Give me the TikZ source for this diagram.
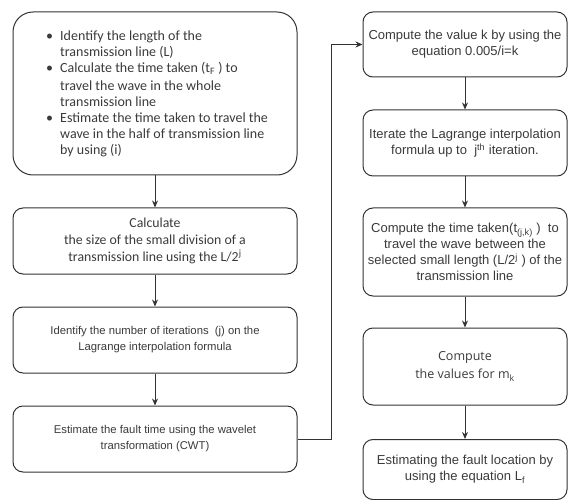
\documentclass[tikz,border=0pt]{standalone}
\usepackage{fontspec}
\setmainfont{Liberation Sans}
\newfontfamily\calfont{Carlito}
\newfontfamily\segfont{Open Sans}
\usetikzlibrary{arrows.meta}
\definecolor{ln}{HTML}{333333}
\definecolor{tx}{HTML}{3A3A3A}
\tikzset{
  box/.style={draw=ln, line width=1pt, rounded corners=10pt, inner sep=0pt, align=center, text=tx, font=\fontsize{11.3}{16}\selectfont},
  rbox/.style={box, font=\fontsize{13}{16}\selectfont},
  bigbox/.style={box, rounded corners=20pt},
  calbox/.style={box, font=\calfont\fontsize{13.8}{17}\selectfont},
  segbox/.style={box, font=\segfont\fontsize{12.5}{18}\selectfont},
  conn/.style={draw=ln, line width=1pt, -{Stealth[length=7pt,width=6pt]}},
}
\begin{document}
\begin{tikzpicture}[x=1pt,y=-1pt]
\useasboundingbox (0,0) rectangle (568,500);
% left column
\node[bigbox, minimum width=284, minimum height=163] (b1) at (155,93.5) {};
\node[anchor=west, align=left, inner sep=0pt, text=tx, font=\calfont\fontsize{14}{16}\selectfont] (t1) at (46,94)
 {\makebox[14pt][l]{\textbullet}Identify the length of the\\
  \hspace*{14pt}transmission line (L)\\
  \makebox[14pt][l]{\textbullet}Calculate the time taken (t\textsubscript{F} ) to\\[2pt]
  \hspace*{14pt}travel the wave in the whole\\
  \hspace*{14pt}transmission line\\
  \makebox[14pt][l]{\textbullet}Estimate the time taken to travel the\\
  \hspace*{14pt}wave in the half of transmission line\\
  \hspace*{14pt}by using (i)};
\node[calbox, minimum width=284, minimum height=66] (b2) at (155,241)
 {Calculate\\the size of the small division of a\\transmission line using the L/2\textsuperscript{j}};
\node[box, minimum width=284, minimum height=66] (b3) at (155,340)
 {Identify the number of iterations\ \ (j) on the\\Lagrange interpolation formula};
\node[box, minimum width=284, minimum height=66] (b4) at (155,439)
 {Estimate the fault time using the wavelet\\transformation (CWT)};
% right column
\node[rbox, minimum width=204, minimum height=65] (r1) at (465,44.5)
 {Compute the value k by using the\\equation 0.005/i=k};
\node[rbox, minimum width=204, minimum height=66] (r2) at (465,143)
 {Iterate the Lagrange interpolation\\formula up to\ \ j\textsuperscript{th} iteration.};
\node[rbox, minimum width=204, minimum height=88] (r3) at (465,252)
 {Compute the time taken(t\textsubscript{(j,k)} )\ \ to\\travel the wave between the\\selected small length (L/2\textsuperscript{j} ) of the\\transmission line};
\node[segbox, minimum width=204, minimum height=77] (r4) at (465,366.5)
 {Compute\\the values for m\textsubscript{k}};
\node[rbox, minimum width=204, minimum height=60] (r5) at (465,469.5)
 {Estimating the fault location by\\using the equation L\textsubscript{f}};
% connectors
\draw[conn] (b1) -- (b2);
\draw[conn] (b2) -- (b3);
\draw[conn] (b3) -- (b4);
\coordinate (cx) at (331,439);
\draw[conn] (b4.east) -- (cx) |- (r1.west);
\draw[conn] (r1) -- (r2);
\draw[conn] (r2) -- (r3);
\draw[conn] (r3) -- (r4);
\draw[conn] (r4) -- (r5);
\end{tikzpicture}
\end{document}
